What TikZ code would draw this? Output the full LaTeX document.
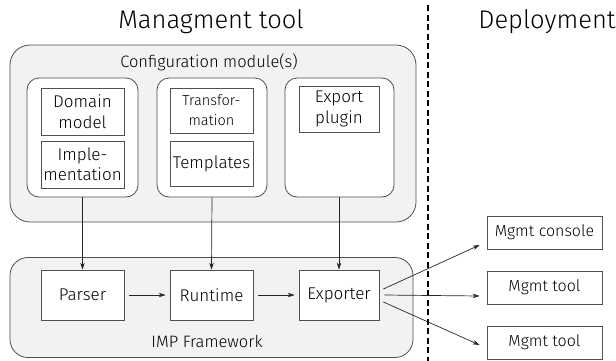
\documentclass[tikz,border=0pt]{standalone}
\usepackage{fontspec}
\setmainfont{Fira Sans}[UprightFont=* Light]
\usetikzlibrary{arrows.meta,calc}
\definecolor{panelgray}{HTML}{F1F2F1}
\definecolor{edgegray}{HTML}{505050}
\tikzset{
  panel/.style={draw=edgegray, fill=panelgray, line width=0.8pt, rounded corners=20pt},
  module/.style={draw=edgegray, fill=white, line width=0.8pt, rounded corners=12pt},
  part/.style={draw=edgegray, fill=white, line width=0.7pt, align=center,
    font=\fontsize{17}{20.5}\selectfont, inner sep=0pt},
  target/.style={part, font=\fontsize{16}{19}\selectfont, minimum width=115pt, minimum height=33pt},
  flow/.style={-{Stealth[length=7pt,width=4.5pt]}, line width=0.7pt, draw=black!85},
  heading/.style={font=\fontsize{25.5}{30}\selectfont, anchor=base},
  caption/.style={font=\fontsize{16.5}{20}\selectfont, anchor=base}
}
\begin{document}
\begin{tikzpicture}[x=1pt, y=-1pt]
\useasboundingbox (0,0) rectangle (616,360);

% section headings and separator
\node[heading] (mtitle) at (211,28) {Managment tool};
\node[heading] (dtitle) at (547,28) {Deployment};
\coordinate (sepTop) at (428,5);
\coordinate (sepBot) at (428,362);
\draw[line width=1.4pt, dash pattern=on 6pt off 3.5pt] (sepTop) -- (sepBot);

% configuration modules
\node[panel, minimum width=406pt, minimum height=177pt] (config) at (213,133.5) {};
\node[caption] (configlbl) at (209,67) {Configuration module(s)};
\node[module, minimum width=111pt, minimum height=119pt] (modA) at (82.5,137.5) {};
\node[module, minimum width=110pt, minimum height=119pt] (modB) at (212,137.5) {};
\node[module, minimum width=109pt, minimum height=119pt] (modC) at (339.5,137.5) {};

\node[part, minimum width=83pt, minimum height=47pt] (domain) at (82.5,111.5) {Domain\\model};
\node[part, minimum width=83pt, minimum height=47pt] (impl) at (82.5,164.5) {Imple-\\mentation};
\node[part, font=\fontsize{14.5}{20}\selectfont, minimum width=83pt, minimum height=45pt] (transf) at (211.5,110.5) {Transfor-\\mation};
\node[part, minimum width=83pt, minimum height=45pt] (templ) at (211.5,163.5) {Templates};
\node[part, minimum width=80pt, minimum height=46pt] (plugin) at (339,109) {Export\\plugin};

% framework
\node[panel, rounded corners=18pt, minimum width=403pt, minimum height=100pt] (imp) at (211.5,307.5) {};
\node[caption] (implbl) at (207,347) {IMP Framework};
\node[part, minimum width=83pt, minimum height=50pt] (parser) at (82.5,295) {Parser};
\node[part, minimum width=83pt, minimum height=50pt] (runtime) at (211.5,295) {Runtime};
\node[part, minimum width=80pt, minimum height=50pt] (exporter) at (339,295) {Exporter};

% deployment targets
\node[target] (console) at (544.5,232.5) {Mgmt console};
\node[target] (toolA) at (544.5,287.5) {Mgmt tool};
\node[target] (toolB) at (544.5,342.5) {Mgmt tool};

% module inputs
\draw[flow] (modA.south) -- (parser.north);
\draw[flow] (modB.south) -- (runtime.north);
\draw[flow] (modC.south -| exporter.north) -- (exporter.north);

% pipeline
\draw[flow] ($(parser.east)+(5,0)$) -- ($(runtime.west)+(-4,0)$);
\draw[flow] ($(runtime.east)+(5,0)$) -- ($(exporter.west)+(-4,0)$);

% export to deployment
\draw[flow] ($(exporter.east)+(4,-6)$) -- ($(console.west)+(-7,12.5)$);
\draw[flow] ($(exporter.east)+(5,0)$) -- ($(toolA.west)+(-7,8.5)$);
\draw[flow] ($(exporter.east)+(4,7)$) -- ($(toolB.west)+(-7,2.5)$);
\end{tikzpicture}
\end{document}
